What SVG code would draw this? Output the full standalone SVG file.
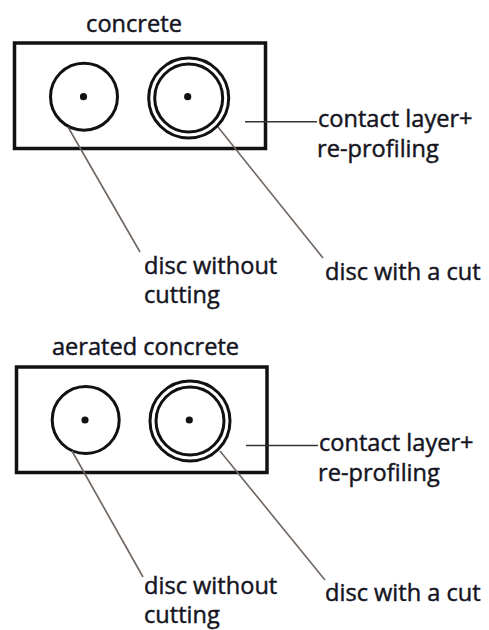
<svg xmlns="http://www.w3.org/2000/svg" width="489" height="630" viewBox="0 0 489 630">
<style>
.box{fill:none;stroke:#111;stroke-width:3.5}
.disc{fill:none;stroke:#111;stroke-width:3}
.dot{fill:#111}
.lead{stroke:#6f6560;stroke-width:1.6;fill:none}
.hlead{stroke:#333;stroke-width:1.6;fill:none}
text{font-family:"Open Sans","Liberation Sans",sans-serif;font-size:23.6px;fill:#15151f;stroke:#15151f;stroke-width:0.45}
</style>
<rect width="489" height="630" fill="#fff"/>
<g id="panel-concrete">
<text x="134" y="31.5" text-anchor="middle">concrete</text>
<rect class="box" x="14.5" y="43" width="251" height="105.5"/>
</g>
<g id="disc-without-1">
<circle class="disc" cx="84" cy="96.7" r="33.5"/>
<circle class="dot" cx="83.5" cy="96.7" r="3.6"/>
</g>
<g id="disc-cut-1">
<circle class="disc" cx="188.7" cy="98" r="40"/>
<circle class="disc" cx="188.7" cy="98" r="34"/>
<circle class="dot" cx="187.7" cy="96.7" r="3.6"/>
</g>
<g id="label-contact-1">
<text x="318" y="127">contact layer+</text>
<text x="317" y="157">re-profiling</text>
</g>
<g id="label-without-1">
<text x="144" y="273.5">disc without</text>
<text x="144" y="303">cutting</text>
</g>
<g id="label-cut-1">
<text x="325" y="280">disc with a cut</text>
</g>

<g id="panel-aerated">
<text x="145.5" y="355" text-anchor="middle">aerated concrete</text>
<rect class="box" x="16.5" y="367" width="250.5" height="105.5"/>
</g>
<g id="disc-without-2">
<circle class="disc" cx="85.7" cy="420" r="33.5"/>
<circle class="dot" cx="85" cy="420" r="3.6"/>
</g>
<g id="disc-cut-2">
<circle class="disc" cx="190" cy="421" r="40"/>
<circle class="disc" cx="190" cy="421" r="34"/>
<circle class="dot" cx="189.3" cy="420" r="3.6"/>
</g>
<g id="label-contact-2">
<text x="319" y="450.5">contact layer+</text>
<text x="318" y="480.5">re-profiling</text>
</g>
<g id="label-without-2">
<text x="144" y="594">disc without</text>
<text x="144" y="623">cutting</text>
</g>
<g id="label-cut-2">
<text x="325" y="600.5">disc with a cut</text>
</g>

<g id="connectors">
<line class="lead" x1="68" y1="127" x2="140" y2="252"/>
<line class="lead" x1="218" y1="127" x2="323" y2="258"/>
<line class="hlead" x1="245" y1="121.7" x2="317" y2="121.7"/>
<line class="lead" x1="72" y1="451" x2="143" y2="577"/>
<line class="lead" x1="220" y1="451" x2="325" y2="580"/>
<line class="hlead" x1="246" y1="445.5" x2="318" y2="445.5"/>
</g>
</svg>
